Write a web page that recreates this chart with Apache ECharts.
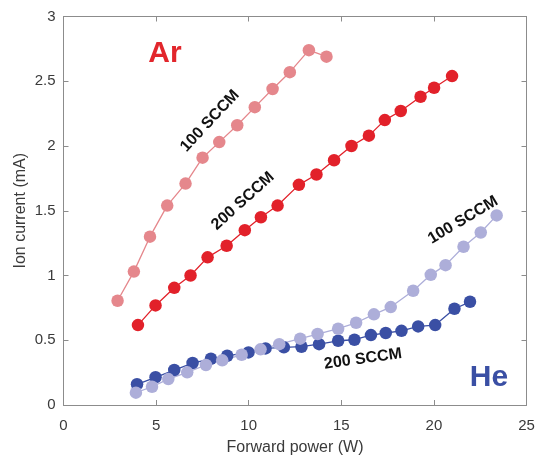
<!DOCTYPE html>
<html>
<head>
<meta charset="utf-8">
<script src="https://cdn.jsdelivr.net/npm/echarts@6/dist/echarts.min.js"></script>
<style>
html,body{margin:0;padding:0;background:#fff;}
#c{width:536px;height:459px;}
</style>
</head>
<body>
<div id="c"></div>
<script>
// Forward power (W) and ion current (mA)
const arP100 = [2.92, 3.80, 4.67, 5.60, 6.59, 7.51, 8.41, 9.38, 10.33, 11.29, 12.22, 13.25, 14.20];
const arI100 = [0.805, 1.03, 1.30, 1.54, 1.71, 1.91, 2.03, 2.16, 2.30, 2.44, 2.57, 2.74, 2.69];

const arP200 = [4.02, 4.97, 5.98, 6.86, 7.78, 8.81, 9.79, 10.66, 11.56, 12.71, 13.66, 14.61, 15.55, 16.49, 17.35, 18.21, 19.28, 20.01, 20.98];
const arI200 = [0.617, 0.769, 0.905, 1.00, 1.14, 1.23, 1.35, 1.45, 1.54, 1.70, 1.78, 1.89, 2.00, 2.08, 2.20, 2.27, 2.38, 2.45, 2.54];

const heP100 = [3.91, 4.78, 5.66, 6.68, 7.69, 8.57, 9.62, 10.64, 11.65, 12.78, 13.72, 14.83, 15.80, 16.76, 17.67, 18.88, 19.83, 20.63, 21.60, 22.53, 23.39];
const heI100 = [0.095, 0.141, 0.20, 0.252, 0.309, 0.345, 0.388, 0.43, 0.47, 0.512, 0.548, 0.589, 0.635, 0.70, 0.756, 0.882, 1.005, 1.08, 1.222, 1.332, 1.464];

const heP200 = [3.97, 4.97, 5.98, 6.97, 7.96, 8.84, 9.99, 10.91, 11.90, 12.85, 13.80, 14.83, 15.71, 16.60, 17.40, 18.25, 19.15, 20.07, 21.11, 21.95];
const heI200 = [0.16, 0.214, 0.27, 0.324, 0.357, 0.38, 0.406, 0.437, 0.445, 0.45, 0.47, 0.496, 0.504, 0.54, 0.556, 0.573, 0.607, 0.617, 0.743, 0.797];

const xTicks = [0, 5, 10, 15, 20, 25];
const yTicks = [0, 0.5, 1, 1.5, 2, 2.5, 3];

const colAr100 = '#E5878C', colAr200 = '#E2212A', colHe100 = '#ADAED9', colHe200 = '#3A4FA4';

function pairs(xs, ys){ return xs.map((x,i)=>[x, ys[i]]); }
function ser(name, xs, ys, color){
  return {
    name, type:'line', data: pairs(xs, ys),
    symbol:'circle', symbolSize:12.5,
    itemStyle:{color:color},
    lineStyle:{color:color, width:1.3},
    emphasis:{disabled:true},
    animation:false
  };
}

const chart = echarts.init(document.getElementById('c'), null, {renderer:'canvas'});
const font = 'Liberation Sans, Arial, Helvetica, sans-serif';
const axisLineStyle = {color:'#8c8c8c', width:1};
chart.setOption({
  backgroundColor:'#fff',
  animation:false,
  grid:{left:63.5, right:9.5, top:16.5, bottom:54, containLabel:false, outerBoundsMode:'none'},
  xAxis:[{
    type:'value', min:0, max:25, interval:5, position:'bottom',
    axisLine:{show:true, onZero:false, lineStyle:axisLineStyle},
    axisTick:{show:true, inside:true, length:5, lineStyle:axisLineStyle},
    axisLabel:{color:'#3a3a3a', fontSize:15, fontFamily:font, margin:13,
      formatter:v=> xTicks.includes(v) ? String(v) : ''},
    splitLine:{show:false},
    name:'Forward power (W)', nameLocation:'middle', nameGap:35, nameMoveOverlap:false,
    nameTextStyle:{color:'#3a3a3a', fontSize:16, fontFamily:font}
  },{
    type:'value', min:0, max:25, interval:5, position:'top',
    axisLine:{show:true, onZero:false, lineStyle:axisLineStyle},
    axisTick:{show:true, inside:true, length:5, lineStyle:axisLineStyle},
    axisLabel:{show:false}, splitLine:{show:false}
  }],
  yAxis:[{
    type:'value', min:0, max:3, interval:0.5, position:'left',
    axisLine:{show:true, onZero:false, lineStyle:axisLineStyle},
    axisTick:{show:true, inside:true, length:5, lineStyle:axisLineStyle},
    axisLabel:{color:'#3a3a3a', fontSize:15, fontFamily:font, margin:8, padding:[6,0,0,0],
      formatter:v=> yTicks.includes(v) ? String(v) : ''},
    splitLine:{show:false},
    name:'Ion current (mA)', nameLocation:'middle', nameGap:35, nameRotate:90, nameMoveOverlap:false,
    nameTextStyle:{color:'#3a3a3a', fontSize:16, fontFamily:font}
  },{
    type:'value', min:0, max:3, interval:0.5, position:'right',
    axisLine:{show:true, onZero:false, lineStyle:axisLineStyle},
    axisTick:{show:true, inside:true, length:5, lineStyle:axisLineStyle},
    axisLabel:{show:false}, splitLine:{show:false}
  }],
  series:[
    ser('Ar 100 SCCM', arP100, arI100, colAr100),
    ser('Ar 200 SCCM', arP200, arI200, colAr200),
    ser('He 200 SCCM', heP200, heI200, colHe200),
    ser('He 100 SCCM', heP100, heI100, colHe100)
  ],
  graphic:[
    {type:'text', x:165, y:54, style:{text:'Ar', fill:'#E2262C', font:'bold 30px '+font, align:'center', verticalAlign:'middle'}},
    {type:'text', x:489, y:378, style:{text:'He', fill:'#3A4FA4', font:'bold 30px '+font, align:'center', verticalAlign:'middle'}},
    {type:'text', x:210, y:121, rotation:47*Math.PI/180, style:{text:'100 SCCM', fill:'#111', font:'bold 16px '+font, align:'center', verticalAlign:'middle'}},
    {type:'text', x:243, y:201, rotation:42*Math.PI/180, style:{text:'200 SCCM', fill:'#111', font:'bold 16px '+font, align:'center', verticalAlign:'middle'}},
    {type:'text', x:463, y:220, rotation:31*Math.PI/180, style:{text:'100 SCCM', fill:'#111', font:'bold 16px '+font, align:'center', verticalAlign:'middle'}},
    {type:'text', x:363, y:359, rotation:8*Math.PI/180, style:{text:'200 SCCM', fill:'#111', font:'bold 16px '+font, align:'center', verticalAlign:'middle'}}
  ]
});
</script>
</body>
</html>
